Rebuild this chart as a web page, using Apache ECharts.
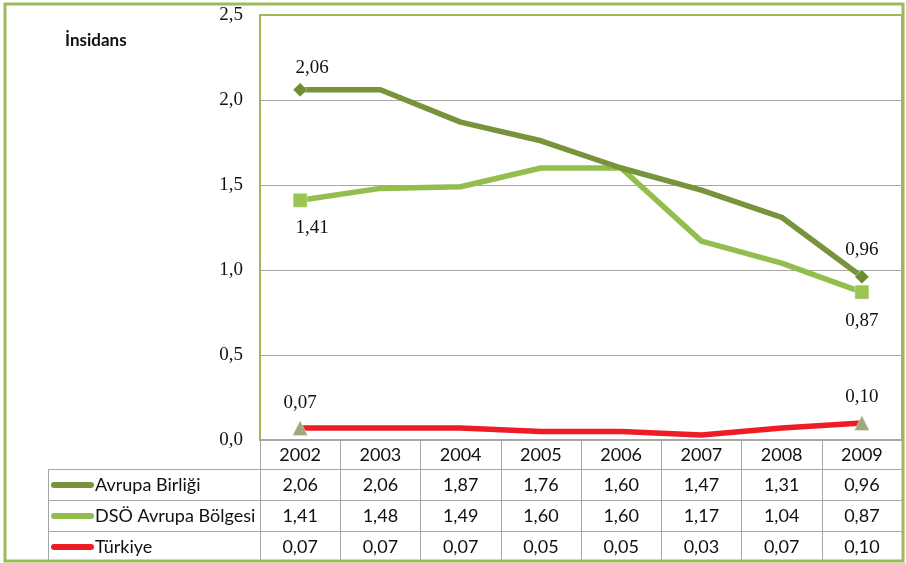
<!DOCTYPE html>
<html>
<head>
<meta charset="utf-8">
<script src="https://cdn.jsdelivr.net/npm/echarts@6/dist/echarts.min.js"></script>
<style>
  html, body { margin: 0; padding: 0; background: #fff; }
  #chart { width: 906px; height: 563px; }
</style>
</head>
<body>
<div id="chart"></div>
<script>
var years = ['2002', '2003', '2004', '2005', '2006', '2007', '2008', '2009'];
var seriesNames = ['Avrupa Birliği', 'DSÖ Avrupa Bölgesi', 'Türkiye'];
var avrupaBirligi = [2.06, 2.06, 1.87, 1.76, 1.60, 1.47, 1.31, 0.96];
var dsoAvrupa = [1.41, 1.48, 1.49, 1.60, 1.60, 1.17, 1.04, 0.87];
var turkiye = [0.07, 0.07, 0.07, 0.05, 0.05, 0.03, 0.07, 0.10];
var yTicks = [0, 0.5, 1.0, 1.5, 2.0, 2.5];

var lineColors = ['#77933C', '#93BE4E', '#EE1C25'];
var markerColors = ['#6E8C32', '#9CC451', '#9BAB80'];
var markers = ['diamond', 'rect', 'triangle'];
var markerSizes = [14, 14, 15];
var allData = [avrupaBirligi, dsoAvrupa, turkiye];

var comma = function (v, d) { return v.toFixed(d).replace('.', ','); };
var serifFont = '"Liberation Serif", serif';
var tableFont = 'Lato, "Open Sans", sans-serif';

// label placement for first / last point of each line
var labelPos = [
	[{ position: 'top', distance: 5, offset: [12, 0] }, { position: 'top', distance: 10 }],
	[{ position: 'bottom', distance: 11, offset: [12, 0] }, { position: 'bottom', distance: 12 }],
	[{ position: 'top', distance: 8 }, { position: 'top', distance: 8 }]
];

var chart = echarts.init(document.getElementById('chart'));

var buildSeries = function (idx) {
	var vals = allData[idx];
	var data = vals.map(function (v, i) {
		var ends = i === 0 || i === vals.length - 1;
		if (!ends) return { value: v, symbol: 'none' };
		var lp = labelPos[idx][i === 0 ? 0 : 1];
		return {
			value: v,
			label: {
				show: true,
				position: lp.position,
				distance: lp.distance,
				offset: lp.offset || [0, 0]
			}
		};
	});
	return {
		name: seriesNames[idx],
		type: 'line',
		xAxisIndex: 0,
		data: data,
		symbol: markers[idx],
		symbolSize: markerSizes[idx],
		showSymbol: true,
		showAllSymbol: true,
		z: 10 - idx,
		itemStyle: { color: markerColors[idx], borderColor: 'rgba(255,255,255,0.35)', borderWidth: 1 },
		lineStyle: { color: lineColors[idx], width: 5.5, cap: 'round', join: 'round' },
		label: {
			show: false,
			color: '#111',
			fontFamily: serifFont,
			fontSize: 19,
			formatter: function (p) { return comma(p.value, 2); }
		},
		emphasis: { disabled: true },
		animation: false
	};
};

// data table rows drawn as extra category axes under the plot
var tableRows = allData.map(function (vals, k) {
	return {
		type: 'category',
		gridIndex: 0,
		position: 'bottom',
		offset: 29 + k * 31,
		data: vals.map(function (v) { return comma(v, 2); }),
		axisLine: { show: true, lineStyle: { color: '#A6A6A6', width: 1 } },
		axisTick: { show: false },
		axisLabel: {
			interval: 0,
			margin: 7,
			color: '#111',
			fontFamily: tableFont,
			fontSize: 18
		}
	};
});

var graphics = [
	{
		type: 'rect',
		shape: { x: 5, y: 4, width: 898, height: 557 },
		style: { fill: 'none', stroke: '#9BBB59', lineWidth: 3 },
		z: 100
	},
	{
		type: 'text',
		left: 65,
		top: 32,
		style: { text: 'İnsidans', fill: '#111', font: 'bold 17px ' + tableFont }
	},
	{
		type: 'line',
		shape: { x1: 48.5, y1: 469, x2: 48.5, y2: 561 },
		style: { stroke: '#A6A6A6', lineWidth: 1 }
	}
];
seriesNames.forEach(function (name, k) {
	var top = 469 + k * 31;
	graphics.push({
		type: 'line',
		shape: { x1: 48, y1: top + 0.5, x2: 260, y2: top + 0.5 },
		style: { stroke: '#A6A6A6', lineWidth: 1 }
	});
	graphics.push({
		type: 'line',
		shape: { x1: 54, y1: top + 16, x2: 91, y2: top + 16 },
		style: { stroke: lineColors[k], lineWidth: 6, lineCap: 'round' }
	});
	graphics.push({
		type: 'text',
		x: 95,
		y: top + 16,
		style: {
			text: name,
			fill: '#111',
			font: '18px ' + tableFont,
			textVerticalAlign: 'middle',
			verticalAlign: 'middle'
		}
	});
});

var option = {
	backgroundColor: '#fff',
	animation: false,
	grid: {
		left: 260,
		top: 15,
		right: 4,
		bottom: 123,
		show: true,
		borderColor: '#9BBB59',
		borderWidth: 2,
		containLabel: false
	},
	xAxis: [
		{
			type: 'category',
			data: years,
			position: 'bottom',
			boundaryGap: true,
			axisLine: { show: false },
			axisTick: { show: true, interval: 0, length: 121, lineStyle: { color: '#A6A6A6', width: 1 } },
			axisLabel: { interval: 0, margin: 6, color: '#111', fontFamily: tableFont, fontSize: 18 }
		}
	].concat(tableRows),
	yAxis: {
		type: 'value',
		min: yTicks[0],
		max: yTicks[yTicks.length - 1],
		interval: 0.5,
		axisLine: { show: false },
		axisTick: { show: false },
		splitLine: { show: true, lineStyle: { color: '#A6A6A6', width: 1 } },
		axisLabel: {
			margin: 17,
			color: '#111',
			fontFamily: serifFont,
			fontSize: 19,
			formatter: function (v) { return comma(v, 1); }
		}
	},
	series: [buildSeries(0), buildSeries(1), buildSeries(2)],
	graphic: graphics
};

chart.setOption(option);
</script>
</body>
</html>
